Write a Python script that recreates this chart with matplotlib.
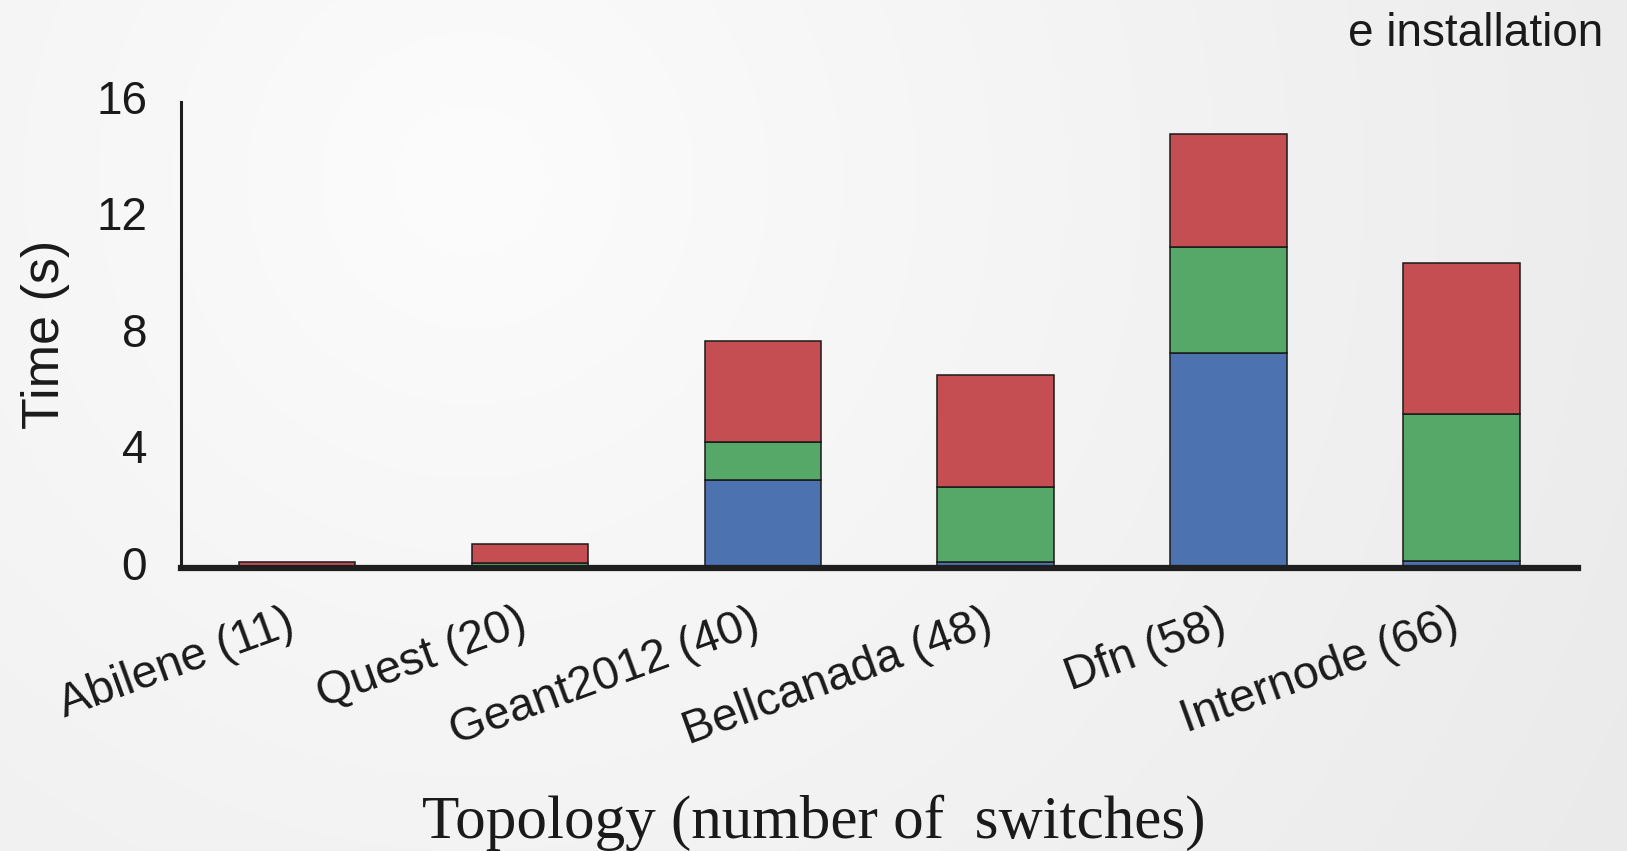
import matplotlib

matplotlib.use("Agg")

import matplotlib.pyplot as plt
import matplotlib.transforms as mtransforms
import numpy as np

plt.rcParams["font.family"] = "Liberation Sans"

# Per-topology timing breakdown (seconds), stacked bottom to top
topologies = [
    "Abilene (11)",
    "Quest (20)",
    "Geant2012 (40)",
    "Bellcanada (48)",
    "Dfn (58)",
    "Internode (66)",
]
stage_blue = [0.02, 0.03, 3.00, 0.20, 7.38, 0.23]
stage_green = [0.03, 0.14, 1.30, 2.58, 3.63, 5.04]
installation = [0.13, 0.65, 3.49, 3.83, 3.88, 5.18]

y_ticks = [0, 4, 8, 12, 16]
legend_fragment = "e installation"

colors = ["#4c72b0", "#55a868", "#c44e52"]

W, H, DPI = 1627, 851, 100
fig = plt.figure(figsize=(W / DPI, H / DPI), dpi=DPI)

# soft radial backdrop, brightest up and to the left
bg = fig.add_axes([0, 0, 1, 1], zorder=-10)
yy, xx = np.mgrid[0:H, 0:W]
r = np.hypot(xx - 470, yy - 180) / 1340.0
shade = np.clip(252 - 18 * r, 0, 255) / 255.0
bg.imshow(np.dstack([shade] * 3), aspect="auto", extent=[0, 1, 0, 1], origin="upper")
bg.set_axis_off()

ax = fig.add_axes([180.5 / W, 1 - 567.5 / H, (1578 - 180.5) / W, (567.5 - 101.7) / H])
ax.patch.set_alpha(0)

x = np.arange(len(topologies))
bottom = np.zeros(len(topologies))
for values, color in zip([stage_blue, stage_green, installation], colors):
    ax.bar(x, values, width=0.5, bottom=bottom, color=color,
           edgecolor="#1a1a1a", linewidth=1.1, zorder=2)
    bottom += np.asarray(values)

ax.set_xlim(-0.5, 5.5)
ax.set_ylim(0, 16)
ax.set_yticks(y_ticks)
ax.set_xticks(x)
ax.set_xticklabels(topologies, rotation=20, ha="right", va="top",
                   rotation_mode="anchor", fontsize=33.5, color="#1a1a1a")
ax.tick_params(axis="x", length=0, pad=24)
ax.tick_params(axis="y", length=0, pad=24, labelsize=33, labelcolor="#1a1a1a")

shift_y = mtransforms.ScaledTranslation(0, 5 / DPI, fig.dpi_scale_trans)
for lbl in ax.get_yticklabels():
    lbl.set_transform(lbl.get_transform() + shift_y)
shift_x = mtransforms.ScaledTranslation(-12 / DPI, 0, fig.dpi_scale_trans)
for lbl in ax.get_xticklabels():
    lbl.set_transform(lbl.get_transform() + shift_x)

for side in ("top", "right"):
    ax.spines[side].set_visible(False)
ax.spines["left"].set_linewidth(2.2)
ax.spines["bottom"].set_linewidth(4.5)
ax.spines["left"].set_color("#1e1e1e")
ax.spines["bottom"].set_color("#1e1e1e")
ax.spines["bottom"].set_zorder(3)

fig.text(45 / W, 1 - 334 / H, "Time (s)", rotation=90, ha="center", va="center",
         fontsize=37.5, color="#1a1a1a")
fig.text(0.5, 1 - 838 / H, "Topology (number of  switches)", ha="center",
         va="baseline", fontsize=44, family="Liberation Serif", color="#1a1a1a")
fig.text(1603 / W, 1 - 46 / H, legend_fragment, ha="right", va="baseline",
         fontsize=33, color="#1a1a1a")

fig.savefig("out.png", dpi=DPI)
